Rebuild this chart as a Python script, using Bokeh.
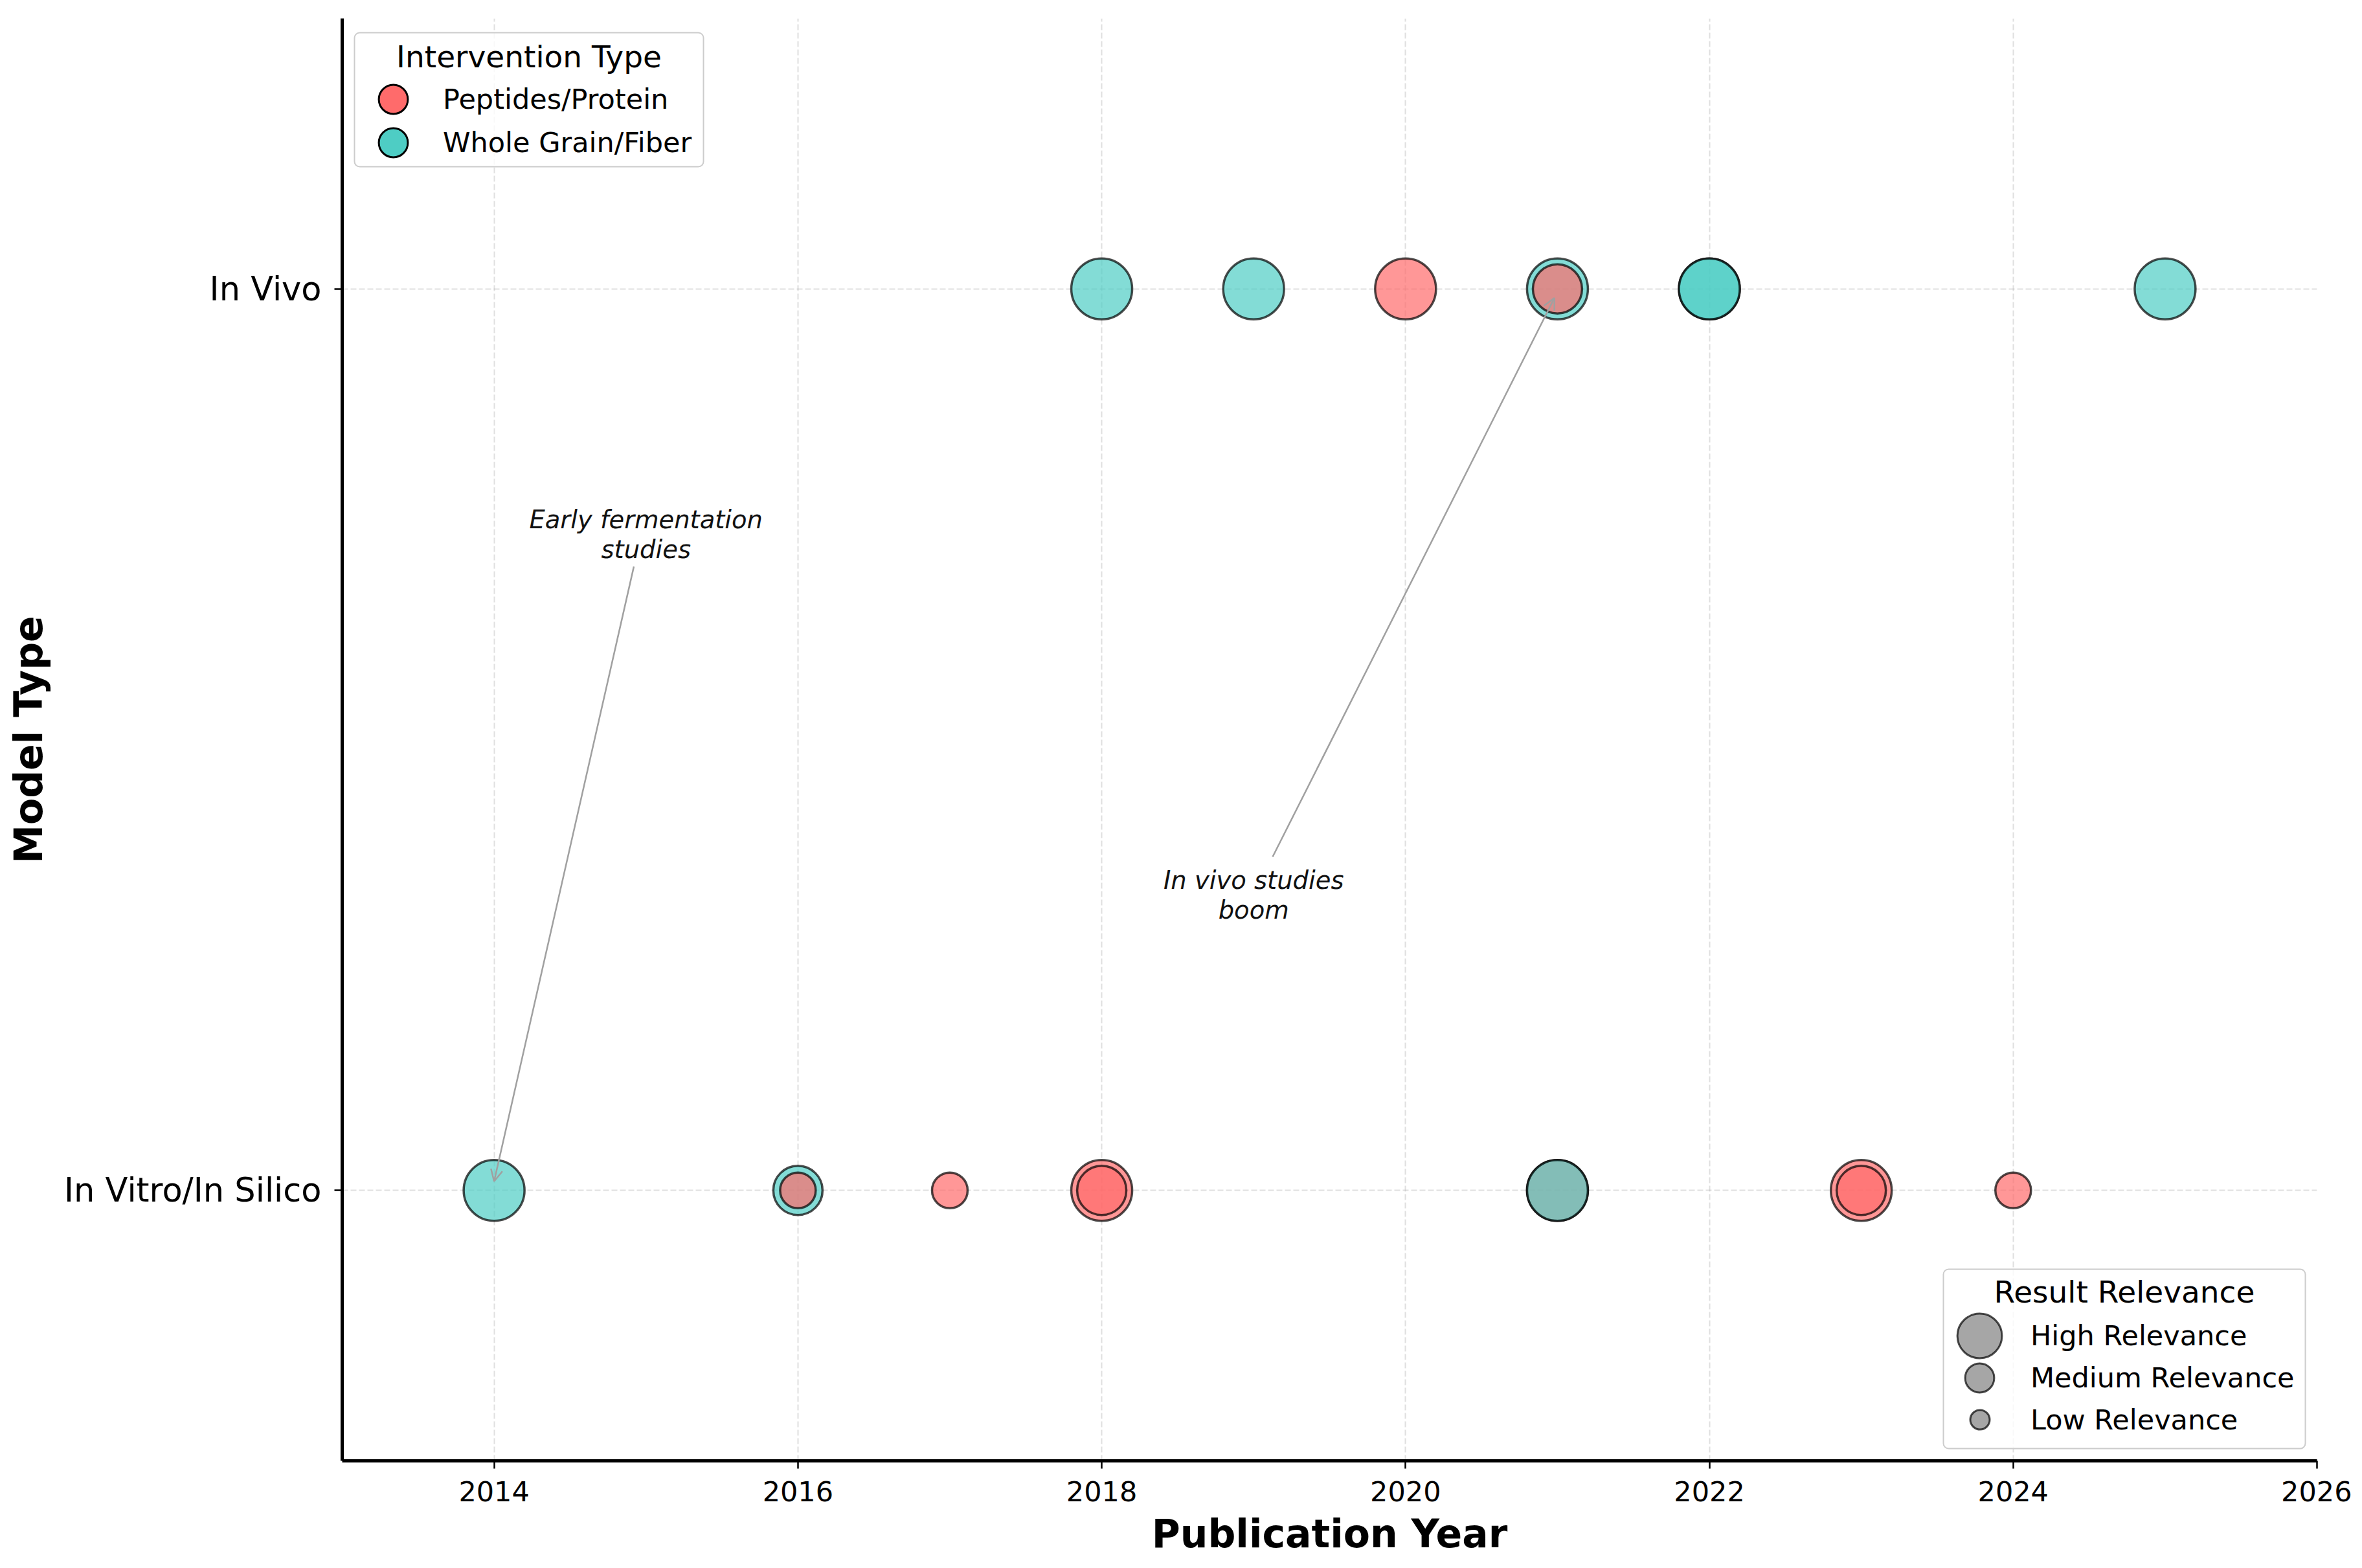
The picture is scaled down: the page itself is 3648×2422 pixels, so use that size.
import numpy as np
from bokeh.plotting import figure
from bokeh.models import (ColumnDataSource, Range1d, FixedTicker, Legend, LegendItem,
                          Arrow, OpenHead, BoxAnnotation, Label)
from bokeh.core.properties import value
from bokeh.embed import file_html
from bokeh.resources import INLINE

# ---------------- data (drawing order matters for overlapping points) ----------------
years = [2014, 2016, 2016, 2017, 2018, 2018, 2021, 2021, 2023, 2023, 2024,
         2018, 2019, 2020, 2021, 2021, 2022, 2022, 2025]
model_types = ["In Vitro/In Silico"] * 11 + ["In Vivo"] * 8
interventions = ["Whole Grain/Fiber", "Whole Grain/Fiber", "Peptides/Protein", "Peptides/Protein",
                 "Peptides/Protein", "Peptides/Protein", "Peptides/Protein", "Whole Grain/Fiber",
                 "Peptides/Protein", "Peptides/Protein", "Peptides/Protein",
                 "Whole Grain/Fiber", "Whole Grain/Fiber", "Peptides/Protein", "Whole Grain/Fiber",
                 "Peptides/Protein", "Whole Grain/Fiber", "Whole Grain/Fiber", "Whole Grain/Fiber"]
relevance = ["High", "Medium", "Low", "Low", "High", "Medium", "High", "High", "High", "Medium", "Low",
             "High", "High", "High", "High", "Medium", "High", "High", "High"]

model_categories = ["In Vitro/In Silico", "In Vivo"]
intervention_categories = ["Peptides/Protein", "Whole Grain/Fiber"]
relevance_categories = ["High Relevance", "Medium Relevance", "Low Relevance"]
x_ticks = [2014, 2016, 2018, 2020, 2022, 2024, 2026]

annot_lines = [["Early fermentation", "studies"], ["In vivo studies", "boom"]]
annot_text_xy = [(2015.0, 0.711), (2019.0, 0.311)]
annot_arrow_start = [(2014.92, 0.692), (2019.125, 0.37)]
annot_arrow_end = [(2014.0, 0.01), (2020.98, 0.99)]

# ---------------- styles ----------------
color_map = {"Peptides/Protein": "#FF6B6B", "Whole Grain/Fiber": "#4ECDC4"}
size_map = {"High": 94, "Medium": 76, "Low": 55}
FONT = "DejaVu Sans"

W, H = 3632, 2406
FL, FR, FT, FB = 528, 3578, 28, 2257   # frame edges in figure px

p = figure(width=W, height=H, output_backend="svg", toolbar_location=None,
           x_range=Range1d(2013, 2026), y_range=Range1d(-0.3, 1.3),
           min_border_left=FL, min_border_right=W - FR, min_border_top=FT,
           min_border_bottom=H - FB)
p.outline_line_color = None
p.background_fill_color = "white"

p.xaxis.ticker = FixedTicker(ticks=x_ticks)
p.yaxis.ticker = FixedTicker(ticks=list(range(len(model_categories))))
p.yaxis.major_label_overrides = {i: c for i, c in enumerate(model_categories)}
p.xaxis.axis_label = "Publication Year"
p.yaxis.axis_label = "Model Type"

for ax in (p.xaxis[0], p.yaxis[0]):
    ax.axis_line_width = 5
    ax.axis_line_color = "black"
    ax.major_tick_line_width = 2.5
    ax.major_tick_line_color = "black"
    ax.major_tick_out = 12
    ax.major_tick_in = 0
    ax.minor_tick_line_color = None
    ax.major_label_text_font = FONT
    ax.major_label_text_color = "black"
    ax.axis_label_text_font = FONT
    ax.axis_label_text_font_style = "bold"
    ax.axis_label_text_font_size = "60px"
    ax.axis_label_text_color = "black"
p.xaxis.major_label_text_font_size = "43px"
p.xaxis.major_label_standoff = 19
p.xaxis.axis_label_standoff = 12
p.yaxis.major_label_text_font_size = "51px"
p.yaxis.major_label_standoff = 20
p.yaxis.axis_label_standoff = 17

for g in (p.xgrid[0], p.ygrid[0]):
    g.grid_line_color = "#b0b0b0"
    g.grid_line_alpha = 0.4
    g.grid_line_dash = "9 4"
    g.grid_line_width = 2

# ---------------- points ----------------
src = ColumnDataSource(dict(
    x=years,
    y=[model_categories.index(m) for m in model_types],
    color=[color_map[t] for t in interventions],
    size=[size_map[r] for r in relevance],
))
p.scatter("x", "y", source=src, size="size", fill_color="color", fill_alpha=0.7,
          line_color="black", line_alpha=0.7, line_width=3.5)

# ---------------- annotations ----------------
tx, ty, tt, toff = [], [], [], []
for lines, (ax_, ay_) in zip(annot_lines, annot_text_xy):
    n = len(lines)
    for k, line in enumerate(lines):
        tx.append(ax_)
        ty.append(ay_)
        tt.append(line)
        toff.append(-(n - 1 - k) * 46)
p.text(x=tx, y=ty, text=tt, y_offset=toff, text_align="center", text_baseline="alphabetic",
       text_font=value(FONT), text_font_style="italic", text_font_size="38.5px", text_color="#111111")

for (xs, ys), (xe, ye) in zip(annot_arrow_start, annot_arrow_end):
    p.add_layout(Arrow(x_start=xs, y_start=ys, x_end=xe, y_end=ye,
                       line_color="#a0a0a0", line_width=2.5,
                       end=OpenHead(size=18, line_color="#a0a0a0", line_width=2.5)))

# ---------------- legends ----------------
nan_xy = dict(x=np.array([np.nan]), y=np.array([np.nan]))
invis = p.scatter(x=nan_xy["x"], y=nan_xy["y"], fill_alpha=0, line_alpha=0)
type_rends = [p.scatter(x=nan_xy["x"], y=nan_xy["y"], fill_color=color_map[c], fill_alpha=1.0,
                        line_color="black", line_width=3) for c in intervention_categories]
grey_rend = p.scatter(x=nan_xy["x"], y=nan_xy["y"], fill_color="gray", fill_alpha=0.7,
                      line_color="black", line_alpha=0.7, line_width=3)


def legend_frame(bx, by, bw, bh, title, title_dy):
    # box (frame-relative screen units, y upward from frame bottom)
    p.add_layout(BoxAnnotation(left=bx, right=bx + bw, bottom=by, top=by + bh,
                               left_units="screen", right_units="screen",
                               bottom_units="screen", top_units="screen",
                               fill_color="white", fill_alpha=0.8,
                               line_color="#cccccc", line_width=2, line_alpha=1.0,
                               border_radius=8, level="annotation"))
    p.add_layout(Label(x=bx + bw / 2, y=by + bh - title_dy, x_units="screen", y_units="screen",
                       text=title, text_align="center", text_baseline="middle",
                       text_font=FONT, text_font_size="47px", text_color="black"))


def label_legend(labels, bx, by, pad, row_h, gw, standoff):
    leg = Legend(items=[LegendItem(label=l, renderers=[invis]) for l in labels],
                 location=(bx + pad, by + pad), padding=pad, spacing=0, margin=0,
                 glyph_width=gw, glyph_height=row_h, label_standoff=standoff,
                 label_height=20, border_line_color=None, background_fill_alpha=0,
                 label_text_font=FONT, label_text_font_size="43px", label_text_color="black")
    p.add_layout(leg)


def glyph_legend(renderer, cx, cy, d):
    g = int(round(d / 0.4))
    leg = Legend(items=[LegendItem(label="", renderers=[renderer])],
                 location=(cx - g / 2, cy - g / 2), padding=0, margin=0, spacing=0,
                 glyph_width=g, glyph_height=g, label_standoff=0, label_width=0, label_height=0,
                 border_line_color=None, background_fill_alpha=0)
    p.add_layout(leg)


fh = FB - FT

# Intervention Type legend (top-left)
b1x, b1y, b1w, b1h = 19, fh - 230, 539, 207
b1p, b1rh = 4, 67
legend_frame(b1x, b1y, b1w, b1h, "Intervention Type", 37)
label_legend(intervention_categories, b1x, b1y, b1p, b1rh, 60, 73)
for k, r in enumerate(type_rends):
    row_c = b1y + b1p + b1rh / 2 + (len(type_rends) - 1 - k) * b1rh
    glyph_legend(r, b1x + 60, row_c, 45)

# Result Relevance legend (bottom-right)
b2x, b2y, b2w, b2h = 2473, 19, 559, 277
b2p, b2rh = 12, 65
legend_frame(b2x, b2y, b2w, b2h, "Result Relevance", 35)
label_legend(relevance_categories, b2x, b2y, b2p, b2rh, 65, 58)
for k, d in enumerate([69, 45, 30]):
    row_c = b2y + b2p + b2rh / 2 + (len(relevance_categories) - 1 - k) * b2rh
    glyph_legend(grey_rend, b2x + 56, row_c, d)

open("out.html", "w").write(file_html(p, INLINE))
